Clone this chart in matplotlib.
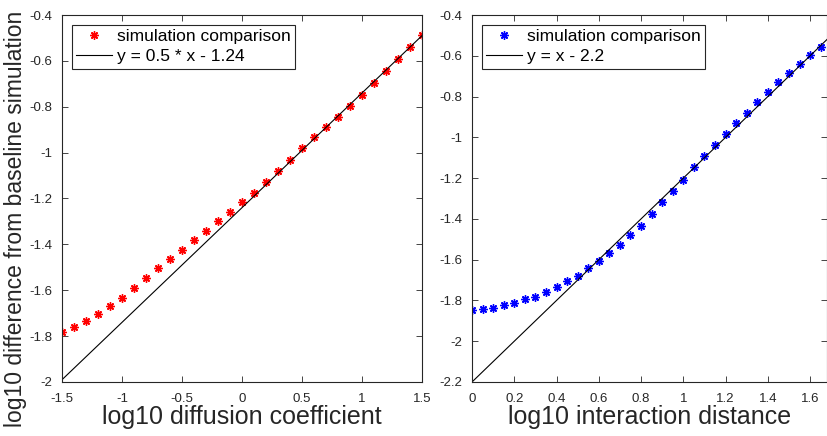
import matplotlib
matplotlib.use("Agg")
import matplotlib.pyplot as plt
import numpy as np
from matplotlib.ticker import FormatStrFormatter

plt.rcParams['font.family'] = ['Liberation Sans', 'DejaVu Sans']

# diffusion coefficient sweep (left)
diff_x = [-1.5, -1.4, -1.3, -1.2, -1.1, -1.0, -0.9, -0.8, -0.7, -0.6, -0.5,
          -0.4, -0.3, -0.2, -0.1, 0.0, 0.1, 0.2, 0.3, 0.4, 0.5,
          0.6, 0.7, 0.8, 0.9, 1.0, 1.1, 1.2, 1.3, 1.4, 1.5]
diff_y = [-1.783, -1.760, -1.735, -1.704, -1.670, -1.632, -1.590, -1.547, -1.505, -1.464, -1.423,
          -1.381, -1.340, -1.298, -1.257, -1.217, -1.175, -1.129, -1.081, -1.032, -0.980,
          -0.932, -0.887, -0.843, -0.797, -0.748, -0.696, -0.646, -0.593, -0.541, -0.486]
diff_fit = (0.5, -1.24)

# interaction distance sweep (right)
dist_x = [0.0, 0.05, 0.1, 0.15, 0.2, 0.25, 0.3, 0.35, 0.4, 0.45, 0.5, 0.55,
          0.6, 0.65, 0.7, 0.75, 0.8, 0.85, 0.9, 0.95, 1.0, 1.05, 1.1, 1.15,
          1.2, 1.25, 1.3, 1.35, 1.4, 1.45, 1.5, 1.55, 1.6, 1.65]
dist_y = [-1.846, -1.840, -1.835, -1.822, -1.812, -1.794, -1.781, -1.757, -1.734, -1.705, -1.681, -1.642,
          -1.606, -1.569, -1.528, -1.481, -1.433, -1.374, -1.318, -1.261, -1.208, -1.147, -1.092, -1.038,
          -0.984, -0.932, -0.880, -0.827, -0.778, -0.730, -0.684, -0.638, -0.596, -0.555]
dist_fit = (1.0, -2.2)

gray = '#262626'
star = (8, 2, 0)

fig = plt.figure(figsize=(8.28, 4.36), dpi=100)
ax1 = fig.add_axes([62/828, 1-382/436, 360/828, 367/436])
ax2 = fig.add_axes([472/828, 1-382/436, 355/828, 367/436])


def style(ax, xlim, ylim, xticks, yticks):
    ax.set_xlim(*xlim)
    ax.set_ylim(*ylim)
    ax.set_xticks(xticks)
    ax.set_yticks(yticks)
    ax.xaxis.set_major_formatter(FormatStrFormatter('%g'))
    ax.yaxis.set_major_formatter(FormatStrFormatter('%g'))
    ax.tick_params(direction='in', top=True, right=True, length=4, width=0.6,
                   colors=gray, labelsize=9.5, labelcolor=gray)
    ax.tick_params(axis='x', pad=8)
    ax.tick_params(axis='y', pad=7)
    for s in ax.spines.values():
        s.set_color(gray)
        s.set_linewidth(0.8)


# left panel
xs = np.array([diff_x[0], diff_x[-1]])
ax1.plot(diff_x, diff_y, linestyle='none', marker=star, color='red', markersize=6,
         markeredgewidth=1.0, label='simulation comparison')
ax1.plot(xs, diff_fit[0]*xs + diff_fit[1], color='black', linewidth=0.8,
         label='y = 0.5 * x - 1.24')
style(ax1, (-1.5, 1.5), (-2, -0.4), np.arange(-1.5, 1.51, 0.5), np.arange(-2, -0.39, 0.2))
ax1.set_xlabel('log10 diffusion coefficient', fontsize=18, color=gray, labelpad=0)
ax1.set_ylabel('log10 difference from baseline simulation', fontsize=16.5, color=gray)
ax1.yaxis.set_label_coords(-0.097, 0.444)

# right panel
xs = np.array([0.0, 1.68])
ax2.plot(dist_x, dist_y, linestyle='none', marker=star, color='blue', markersize=6,
         markeredgewidth=1.0, label='simulation comparison')
ax2.plot(xs, dist_fit[0]*xs + dist_fit[1], color='black', linewidth=0.8,
         label='y = x - 2.2')
style(ax2, (0, 1.68), (-2.2, -0.4), np.arange(0, 1.61, 0.2), np.arange(-2.2, -0.39, 0.2))
ax2.set_xlabel('log10 interaction distance', fontsize=18, color=gray, labelpad=0)

for ax in (ax1, ax2):
    leg = ax.legend(loc='upper left', fontsize=12.5, fancybox=False, framealpha=1,
                    borderpad=0.25, labelspacing=0.3, handlelength=2.1,
                    handletextpad=0.25, borderaxespad=0.55, bbox_to_anchor=(0.0, 1.0))
    leg.get_frame().set_edgecolor(gray)
    leg.get_frame().set_linewidth(0.8)

fig.savefig('out.png', dpi=100)
